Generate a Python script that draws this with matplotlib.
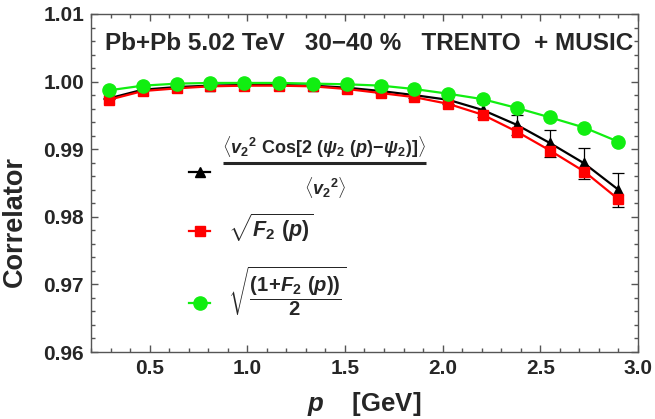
import matplotlib
matplotlib.use("Agg")
import matplotlib.pyplot as plt
from matplotlib.ticker import MultipleLocator, FormatStrFormatter

plt.rcParams["font.family"] = ["Liberation Sans", "DejaVu Sans"]
plt.rcParams["font.weight"] = "bold"
plt.rcParams["axes.labelweight"] = "bold"
plt.rcParams["mathtext.fontset"] = "custom"
plt.rcParams["mathtext.rm"] = "Liberation Sans:bold"
plt.rcParams["mathtext.bf"] = "Liberation Sans:bold"
plt.rcParams["mathtext.sf"] = "Liberation Sans:bold"
plt.rcParams["mathtext.it"] = "Liberation Sans:bold:italic"

TEXT = "#262626"
FRAME = "#555555"

# transverse momentum bin centres [GeV]
p_vals = [0.29, 0.465, 0.64, 0.81, 0.985, 1.16, 1.335, 1.51,
          1.685, 1.855, 2.03, 2.205, 2.38, 2.55, 2.725, 2.90]

# <v2^2 cos[2(psi2(p)-psi2)]> / <v2^2>
corr_v2 = [0.9975, 0.9988, 0.9992, 0.9994, 0.9995, 0.9995, 0.9994, 0.9991,
           0.9986, 0.9980, 0.9973, 0.9958, 0.9936, 0.9909, 0.9879, 0.9840]
corr_v2_err = [0.0001, 0.0001, 0.0001, 0.0001, 0.0001, 0.0001, 0.0002, 0.0002,
               0.0003, 0.0004, 0.0006, 0.0010, 0.0015, 0.0020, 0.0023, 0.0025]

# sqrt(F2(p))
sqrt_f2 = [0.9973, 0.9986, 0.9990, 0.9993, 0.9994, 0.9994, 0.9993, 0.9989,
           0.9983, 0.9977, 0.9967, 0.9951, 0.9926, 0.9898, 0.9867, 0.9826]

# sqrt((1+F2(p))/2)
sqrt_half = [0.9987, 0.9994, 0.9997, 0.9998, 0.9998, 0.9998, 0.9997, 0.9996,
             0.9994, 0.9989, 0.9982, 0.9974, 0.9961, 0.9947, 0.9932, 0.9911]

BLACK, RED, GREEN = "black", "#ff0000", "#11ee11"

fig = plt.figure(figsize=(6.55, 4.19), dpi=100)
ax = fig.add_axes([0.1389, 0.1599, 0.8351, 0.8067])

ax.errorbar(p_vals, corr_v2, yerr=corr_v2_err, color=BLACK, lw=1.6,
            marker="^", ms=7.5, elinewidth=0.9, capsize=4, capthick=0.9, zorder=3)
ax.plot(p_vals, sqrt_f2, color=RED, lw=1.6, marker="s", ms=6.8, zorder=4)
ax.plot(p_vals, sqrt_half, color=GREEN, lw=1.6, marker="o", ms=9.5, zorder=5)

ax.set_xlim(0.2, 3.0)
ax.set_ylim(0.96, 1.01)
ax.xaxis.set_major_locator(MultipleLocator(0.5))
ax.xaxis.set_minor_locator(MultipleLocator(0.1))
ax.yaxis.set_major_locator(MultipleLocator(0.01))
ax.yaxis.set_minor_locator(MultipleLocator(0.002))
ax.xaxis.set_major_formatter(FormatStrFormatter("%.1f"))
ax.yaxis.set_major_formatter(FormatStrFormatter("%.2f"))
ax.tick_params(which="both", direction="in", top=True, right=True,
               color=FRAME, width=1.0, labelcolor=TEXT, labelsize=15, pad=5)
ax.tick_params(which="major", length=5)
ax.tick_params(which="minor", length=3)
for sp in ax.spines.values():
    sp.set_color(FRAME)
    sp.set_linewidth(1.0)

ax.set_xlabel(r"$p$    [GeV]", fontsize=18.5, color=TEXT, labelpad=9)
ax.set_ylabel("Correlator", fontsize=19.5, color=TEXT)
ax.yaxis.set_label_coords(-0.115, 0.385)

ax.text(0.026, 0.914, "Pb+Pb 5.02 TeV   30\u221240 %   TRENTO  + MUSIC",
        transform=ax.transAxes, fontsize=17.5, color=TEXT, va="center", ha="left")

# hand-placed legend: handle segments plus formula labels
handles = [
    dict(color=BLACK, marker="^", ms=7.5, y=0.532),
    dict(color=RED, marker="s", ms=6.8, y=0.358),
    dict(color=GREEN, marker="o", ms=9.5, y=0.145),
]
for h in handles:
    ax.plot([0.179, 0.218], [h["y"], h["y"]], transform=ax.transAxes,
            color=h["color"], lw=1.6, clip_on=False)
    ax.plot([0.1985], [h["y"]], transform=ax.transAxes, color=h["color"],
            marker=h["marker"], ms=h["ms"], clip_on=False)

# first label: fraction built from two texts and a rule
ax.text(0.426, 0.607,
        r"$\langle v_2{}^{2}\ \mathrm{Cos}[2\ (\psi_2\ (p)\!-\!\psi_2)]\rangle$",
        transform=ax.transAxes, fontsize=13, color=TEXT, va="center", ha="center")
ax.plot([0.241, 0.612], [0.559, 0.559], transform=ax.transAxes,
        color=TEXT, lw=2.2, solid_capstyle="butt")
ax.text(0.428, 0.487, r"$\langle v_2{}^{2}\rangle$",
        transform=ax.transAxes, fontsize=13, color=TEXT, va="center", ha="center")

ax.text(0.25, 0.368, r"$\sqrt{F_2\ (p)}$",
        transform=ax.transAxes, fontsize=15.5, color=TEXT, va="center", ha="left")
ax.text(0.25, 0.18, r"$\sqrt{\dfrac{(1\!+\!F_2\ (p))}{2}}$",
        transform=ax.transAxes, fontsize=14.5, color=TEXT, va="center", ha="left")

fig.savefig("out.png", dpi=100)
